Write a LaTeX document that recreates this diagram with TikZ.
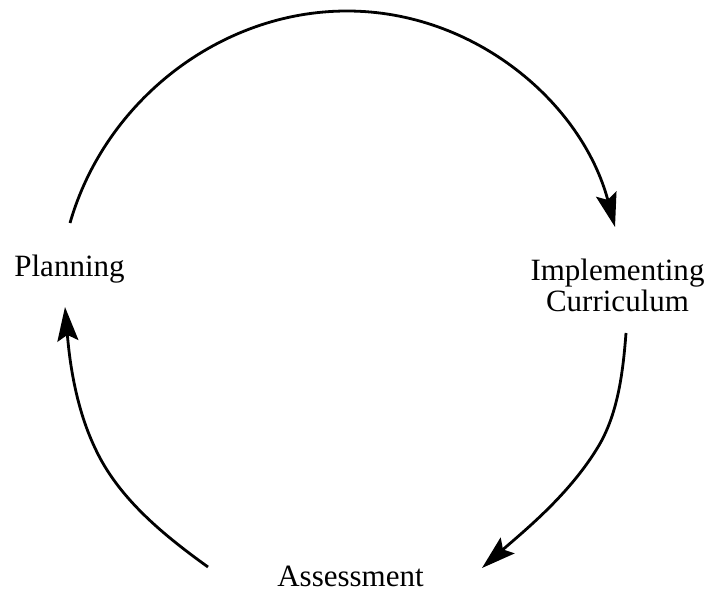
\documentclass[tikz,border=0pt]{standalone}
\usepackage{fontspec}
\setmainfont{Liberation Serif}
\usetikzlibrary{arrows.meta}
\begin{document}
\begin{tikzpicture}[x=1pt,y=1pt,
  lbl/.style={font=\fontsize{31}{32}\selectfont, inner sep=0pt, align=center},
  cyc/.style={line width=2.8pt, -{Stealth[length=34pt,width=21pt,inset=6pt]}}]
\useasboundingbox (0,0) rectangle (708,592);
% labels
\node[lbl, anchor=base] (plan) at (69.5,316) {Planning};
\node[lbl, anchor=base] (impl) at (617.5,280) {Implementing\\Curriculum};
\node[lbl, anchor=base] (assess) at (350.5,6) {Assessment};
% arc end points
\coordinate (A) at (70,369);
\coordinate (T) at (347,581);
\coordinate (B) at (615,365);
\coordinate (C) at (626,259);
\coordinate (M) at (598,145);
\coordinate (D) at (482,24);
\coordinate (E) at (208,25);
\coordinate (N) at (95,144);
\coordinate (F) at (65,285);
% connectors
\draw[cyc] (A) .. controls (105,491) and (220,581) .. (T)
               .. controls (475,581) and (582,489) .. (B);
\draw[cyc] (C) .. controls (623,220) and (618,178) .. (M)
               .. controls (569,97) and (524,61) .. (D);
\draw[cyc] (E) .. controls (163.5,57) and (118,94) .. (N)
               .. controls (74,188) and (69,238) .. (F);
\end{tikzpicture}
\end{document}
